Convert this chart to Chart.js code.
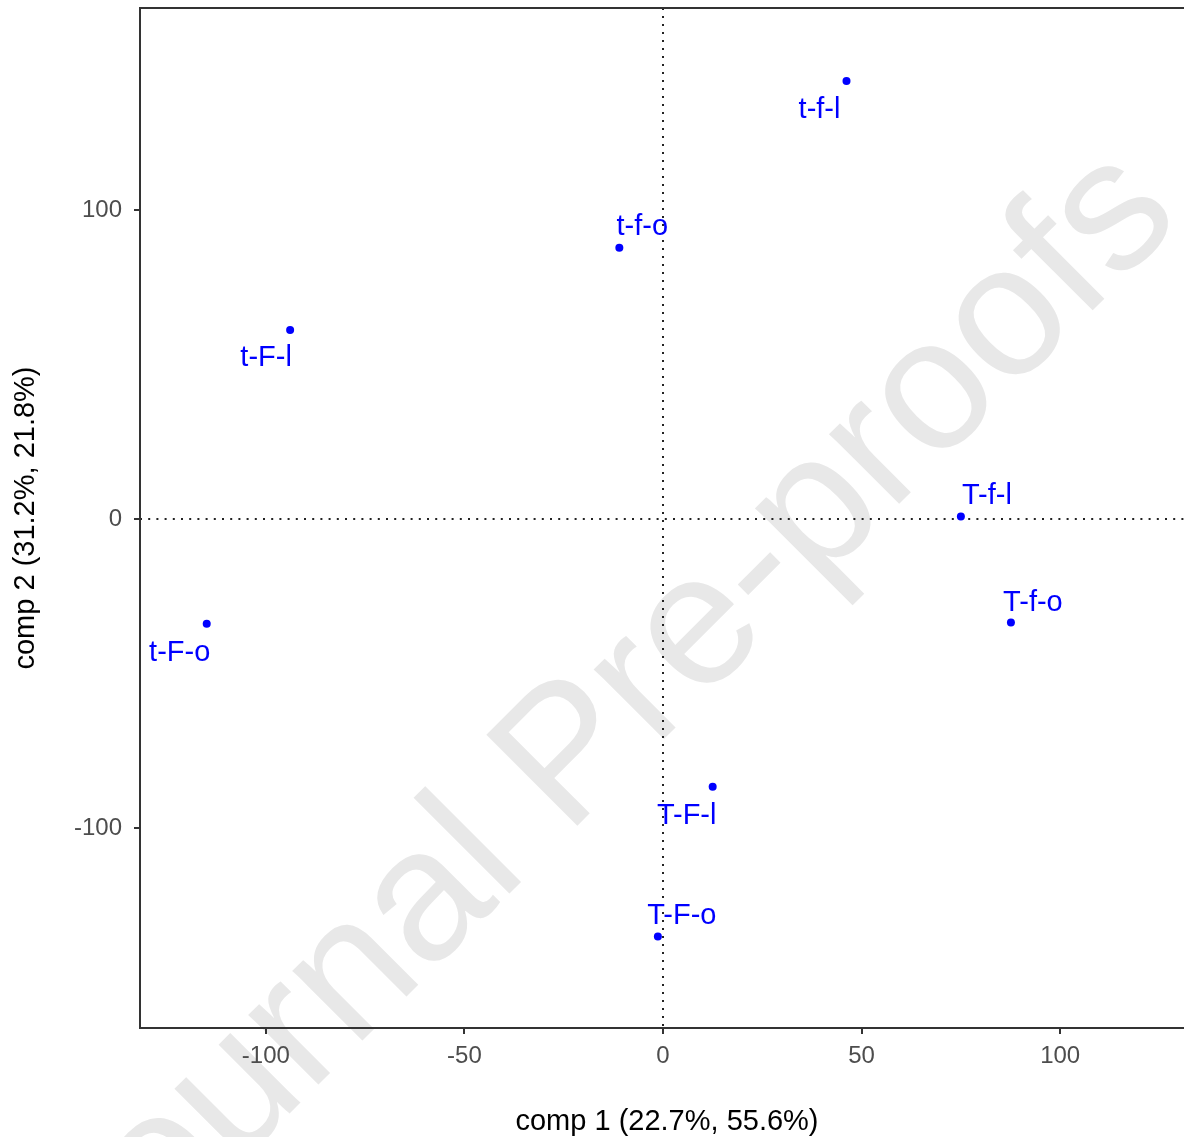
<!DOCTYPE html>
<html>
<head>
<meta charset="utf-8">
<script src="https://cdn.jsdelivr.net/npm/chart.js@4"></script>
<style>
  html, body { margin: 0; padding: 0; background: #fff; overflow: hidden; width: 1184px; height: 1137px; }
  #wrap { position: relative; width: 1200px; height: 1137px; }
</style>
</head>
<body>
<div id="wrap"><canvas id="c" width="1200" height="1137"></canvas></div>
<script>
// Sample scores on the first two components
const sampleNames = ['t-f-l', 't-f-o', 't-F-l', 't-F-o', 'T-f-l', 'T-f-o', 'T-F-l', 'T-F-o'];
const comp1 = [46.2, -11.0, -93.9, -114.9, 75.0, 87.6, 12.5, -1.3];
const comp2 = [141.8, 87.8, 61.2, -33.9, 0.8, -33.5, -86.6, -135.1];

// Axis ticks and titles
const xTicks = [-100, -50, 0, 50, 100];
const yTicks = [-100, 0, 100];
const xTitle = 'comp 1 (22.7%, 55.6%)';
const yTitle = 'comp 2 (31.2%, 21.8%)';
const watermark = 'Journal Pre-proofs';

// Pixel nudges that keep each label clear of its point
const labelNudge = [[-27, 29], [23, -21], [-24, 28], [-27, 29], [26, -21], [22, -20], [-26, 29], [24, -21]];

const FONT = "'Liberation Sans', Arial, Helvetica, sans-serif";
const AXIS_COLOR = '#333333';

const points = comp1.map((x, i) => ({ x: x, y: comp2[i] }));

const watermarkPlugin = {
  id: 'watermark',
  beforeDraw(chart) {
    const ctx = chart.ctx;
    ctx.save();
    ctx.translate(640, 763);
    ctx.rotate(-45 * Math.PI / 180);
    ctx.font = '187px ' + FONT;
    ctx.fillStyle = '#e8e8e8';
    ctx.textAlign = 'center';
    ctx.textBaseline = 'alphabetic';
    ctx.fillText(watermark, 0, 0);
    ctx.restore();
  }
};

const zeroLinesPlugin = {
  id: 'zeroLines',
  beforeDatasetsDraw(chart) {
    const { ctx, chartArea: a, scales: { x, y } } = chart;
    const x0 = Math.round(x.getPixelForValue(0));
    const y0 = Math.round(y.getPixelForValue(0));
    ctx.save();
    ctx.strokeStyle = '#222222';
    ctx.lineWidth = 2;
    ctx.setLineDash([2, 6.2]);
    ctx.beginPath();
    ctx.moveTo(a.left, y0);
    ctx.lineTo(a.right, y0);
    ctx.stroke();
    ctx.setLineDash([2, 6]);
    ctx.beginPath();
    ctx.moveTo(x0, a.top);
    ctx.lineTo(x0, a.bottom);
    ctx.stroke();
    ctx.restore();
  }
};

const frameAndLabelsPlugin = {
  id: 'frameAndLabels',
  afterDatasetsDraw(chart) {
    const { ctx, chartArea: a, scales: { x, y } } = chart;
    ctx.save();
    ctx.strokeStyle = AXIS_COLOR;
    ctx.lineWidth = 2;
    ctx.strokeRect(a.left, a.top, a.right - a.left, a.bottom - a.top);
    ctx.font = '29px ' + FONT;
    ctx.fillStyle = '#0000ff';
    ctx.textAlign = 'center';
    ctx.textBaseline = 'middle';
    sampleNames.forEach((name, i) => {
      const px = x.getPixelForValue(comp1[i]) + labelNudge[i][0];
      const py = y.getPixelForValue(comp2[i]) + labelNudge[i][1];
      ctx.fillText(name, px, py);
    });
    ctx.restore();
  }
};

new Chart(document.getElementById('c'), {
  type: 'scatter',
  data: {
    datasets: [{
      data: points,
      backgroundColor: '#0000ff',
      borderWidth: 0,
      pointRadius: 4,
      pointHoverRadius: 4
    }]
  },
  options: {
    responsive: false,
    animation: false,
    devicePixelRatio: 1,
    layout: { padding: { top: 8, right: 6, left: 0, bottom: 0 } },
    plugins: { legend: { display: false }, tooltip: { enabled: false } },
    scales: {
      x: {
        type: 'linear',
        position: 'bottom',
        min: -131.7,
        max: 133.7,
        afterBuildTicks: s => { s.ticks = xTicks.map(v => ({ value: v })); },
        afterFit: s => { s.height = 109; s.paddingLeft = 0; s.paddingRight = 0; },
        border: { display: false },
        grid: { display: true, drawOnChartArea: false, drawTicks: true, tickLength: 6, color: AXIS_COLOR, lineWidth: 2 },
        ticks: { color: '#4d4d4d', font: { size: 24, family: FONT }, padding: 8, maxRotation: 0, autoSkip: false },
        title: { display: true, text: xTitle, color: '#000000', font: { size: 29, family: FONT }, padding: { top: 0, bottom: -2 } }
      },
      y: {
        type: 'linear',
        position: 'left',
        min: -164.7,
        max: 165.4,
        afterBuildTicks: s => { s.ticks = yTicks.map(v => ({ value: v })); },
        afterFit: s => { s.width = 140; s.paddingTop = 0; s.paddingBottom = 0; },
        border: { display: false },
        grid: { display: true, drawOnChartArea: false, drawTicks: true, tickLength: 6, color: AXIS_COLOR, lineWidth: 2 },
        ticks: { color: '#4d4d4d', font: { size: 24, family: FONT }, padding: 12, autoSkip: false },
        title: { display: true, text: yTitle, color: '#000000', font: { size: 29, family: FONT }, padding: { top: 9, bottom: 0 } }
      }
    }
  },
  plugins: [watermarkPlugin, zeroLinesPlugin, frameAndLabelsPlugin]
});
</script>
</body>
</html>
